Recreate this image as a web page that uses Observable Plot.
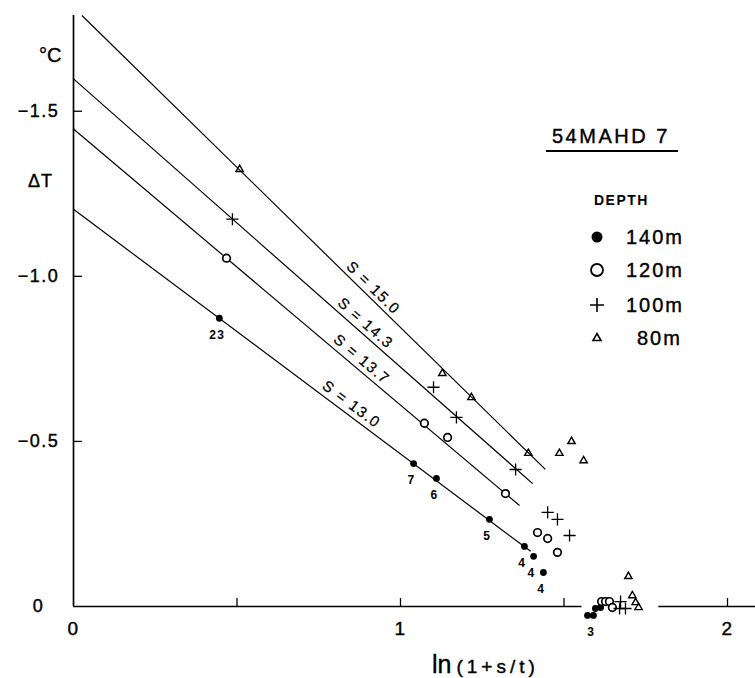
<!DOCTYPE html>
<html><head><meta charset="utf-8">
<script src="https://cdn.jsdelivr.net/npm/d3@7"></script>
<script src="https://cdn.jsdelivr.net/npm/@observablehq/plot@0.6"></script>
<style>
body{margin:0;background:#fff;}
#wrap{position:relative;width:755px;height:678px;font-family:"Liberation Sans",Arial,sans-serif;color:#000;overflow:hidden;}
#wrap svg.plot{position:absolute;left:0;top:0;}
.lbl{position:absolute;white-space:nowrap;line-height:1;transform:translateY(-50%);-webkit-text-stroke:0.4px #000;}
</style></head><body><div id="wrap"></div>
<script>
// ---- data ----
const depths = ["140m", "120m", "100m", "80m"];
const x140 = [0.446, 1.040, 1.110, 1.272, 1.379, 1.407, 1.437, 1.572, 1.590, 1.596, 1.612];
const y140 = [-0.873, -0.433, -0.388, -0.264, -0.182, -0.152, -0.103, 0.027, 0.027, 0.006, 0.003];
const n140 = ["23", "7", "6", "5", "4", "4", "4", "", "3", "", ""];
const x120 = [0.468, 1.073, 1.144, 1.321, 1.419, 1.450, 1.480, 1.615, 1.627, 1.639, 1.648];
const y120 = [-1.055, -0.555, -0.512, -0.342, -0.224, -0.206, -0.164, -0.015, -0.015, -0.015, 0.003];
const x100 = [0.486, 1.101, 1.171, 1.352, 1.450, 1.480, 1.517, 1.670, 1.673, 1.688];
const y100 = [-1.173, -0.664, -0.573, -0.415, -0.285, -0.264, -0.215, 0.006, -0.015, 0.006];
const x80 = [0.508, 1.128, 1.217, 1.391, 1.486, 1.523, 1.560, 1.697, 1.709, 1.719, 1.728];
const y80 = [-1.324, -0.706, -0.633, -0.464, -0.464, -0.500, -0.442, -0.091, -0.033, -0.012, 0.003];

const sLabels = ["S = 15.0", "S = 14.3", "S = 13.7", "S = 13.0"];
const sIntercept = [-1.815, -1.598, -1.446, -1.203];
const sSlope = [0.970, 0.873, 0.836, 0.741];
const sXEnd = [1.443, 1.404, 1.364, 1.398];
const sLabelX = [0.917, 0.893, 0.881, 0.850];

const xTickVals = [0.5, 1, 1.5, 2];
const xTickLabelVals = [0, 1, 2];
const yTickVals = [-1.5, -1.0, -0.5];
const yTickLabelVals = [0, -0.5, -1.0, -1.5];
const yTickLabelText = ["0", "\u22120.5", "\u22121.0", "\u22121.5"];
const xAxisSegs = [[0, 1.555], [1.79, 2.09]];
const xDom = [0, 2], yDom = [0, -1.79];

// ---- layout ----
const W = 755, H = 678, ML = 73, MR = 28, MT = 15, MB = 72;
const kx = (W - ML - MR) / (xDom[1] - xDom[0]);
const ky = (H - MT - MB) / Math.abs(yDom[1] - yDom[0]);

const pts = (xs, ys, lab) => xs.map((x, i) => ({x, y: ys[i], label: lab ? lab[i] : ""}));
const d140 = pts(x140, y140, n140), d120 = pts(x120, y120), d100 = pts(x100, y100), d80 = pts(x80, y80);

const fits = sLabels.map((s, i) => {
  const b = sIntercept[i], m = sSlope[i];
  const x1 = Math.max(0, (yDom[1] - b) / m), x2 = sXEnd[i], lx = sLabelX[i];
  return {s, x1, y1: b + m * x1, x2, y2: b + m * x2, lx, ly: b + m * lx,
          angle: Math.atan(m * ky / kx) * 180 / Math.PI};
});

const txt = {fill: "black", stroke: "black", strokeWidth: 0.4};

const chart = Plot.plot({
  width: W, height: H, marginLeft: ML, marginRight: MR, marginTop: MT, marginBottom: MB,
  x: {domain: xDom, axis: null},
  y: {domain: yDom, axis: null},
  style: {fontFamily: '"Liberation Sans", Arial, sans-serif', background: "white", color: "black", overflow: "visible", letterSpacing: "1.5px"},
  marks: [
    Plot.ruleX([0], {y1: 0, y2: yDom[1], stroke: "black", strokeWidth: 1.7}),
    Plot.ruleY(xAxisSegs, {y: 0, x1: d => d[0], x2: d => d[1], stroke: "black", strokeWidth: 1.7}),
    Plot.ruleX(xTickVals, {x: d => d, y1: 0, y2: -8 / ky, stroke: "black", strokeWidth: 1.3}),
    Plot.ruleY(yTickVals, {y: d => d, x1: 0, x2: 9 / kx, stroke: "black", strokeWidth: 1.3}),
    Plot.text(yTickLabelVals, {y: d => d, text: (d, i) => yTickLabelText[i], frameAnchor: "left", dx: -35, textAnchor: "middle", fontSize: 18, ...txt}),
    Plot.text(xTickLabelVals, {x: d => d, text: d => String(d), frameAnchor: "bottom", dy: 28, fontSize: 19, ...txt}),
    Plot.link(fits, {x1: "x1", y1: "y1", x2: "x2", y2: "y2", stroke: "black", strokeWidth: 1.2}),
    ...fits.map(f => Plot.text([f], {x: "lx", y: "ly", text: "s", rotate: f.angle, dy: -13, fontSize: 15, fill: "black", stroke: "black", strokeWidth: 0.25})),
    Plot.dot(d140, {x: "x", y: "y", r: 3.4, fill: "black", stroke: "none"}),
    Plot.dot(d120, {x: "x", y: "y", r: 3.8, fill: "white", stroke: "black", strokeWidth: 1.7}),
    Plot.dot(d100, {x: "x", y: "y", r: 4, symbol: d3.symbolPlus, fill: "none", stroke: "black", strokeWidth: 1.3}),
    Plot.dot(d80, {x: "x", y: "y", r: 3.5, symbol: d3.symbolTriangle2, fill: "none", stroke: "black", strokeWidth: 1.4}),
    Plot.text(d140.filter(d => d.label), {x: "x", y: "y", text: "label", dy: 17, dx: -2, fontSize: 12, fontWeight: "bold", fill: "black"})
  ]
});
chart.classList.add("plot");
const wrap = document.getElementById("wrap");
wrap.appendChild(chart);

// ---- text outside the plot area: axis titles and legend ----
function addLabel(html, left, cy, css) {
  const el = document.createElement("div");
  el.className = "lbl";
  el.innerHTML = html;
  el.style.left = left + "px";
  el.style.top = cy + "px";
  Object.assign(el.style, css || {});
  wrap.appendChild(el);
  return el;
}
addLabel("°C", 39, 55, {fontSize: "20px"});
addLabel("ΔT", 28, 181, {fontSize: "18px", letterSpacing: "1px"});

const xl = document.createElement("div");
xl.style.cssText = "position:absolute;left:432px;top:651px;line-height:26px;font-size:25px;white-space:nowrap;-webkit-text-stroke:0.4px #000;";
xl.innerHTML = 'ln<span style="font-size:19px;letter-spacing:4px;margin-left:5px;">(1+s/t)</span>';
wrap.appendChild(xl);

// legend
const legendTitle = "54MAHD 7";
addLabel(legendTitle, 546, 136, {fontSize: "20px", letterSpacing: "2.5px", width: "126px", paddingLeft: "6px"});
const ul = document.createElement("div");
ul.style.cssText = "position:absolute;left:546px;top:150px;width:132px;height:2px;background:#000;";
wrap.appendChild(ul);
addLabel("DEPTH", 594, 200, {fontSize: "14px", fontWeight: "bold", letterSpacing: "1.5px", webkitTextStroke: "0px"});

const legendY = [237, 270, 305, 338];
const legendTextX = [626, 626, 626, 637];
const sym = [
  '<circle cx="8" cy="8" r="5.5" fill="black"/>',
  '<circle cx="8" cy="8" r="6" fill="none" stroke="black" stroke-width="1.8"/>',
  '<path d="M1,8H15M8,1V15" stroke="black" stroke-width="1.6" fill="none"/>',
  '<path d="M8,3.5L12,10.5H4Z" stroke="black" stroke-width="1.6" fill="none"/>'
];
depths.forEach((dname, i) => {
  const s = document.createElement("div");
  s.style.cssText = `position:absolute;left:589px;top:${legendY[i] - 8}px;width:16px;height:16px;`;
  s.innerHTML = `<svg width="16" height="16" viewBox="0 0 16 16">${sym[i]}</svg>`;
  wrap.appendChild(s);
  addLabel(dname, legendTextX[i], legendY[i], {fontSize: "20px", letterSpacing: "2px"});
});
</script></body></html>
